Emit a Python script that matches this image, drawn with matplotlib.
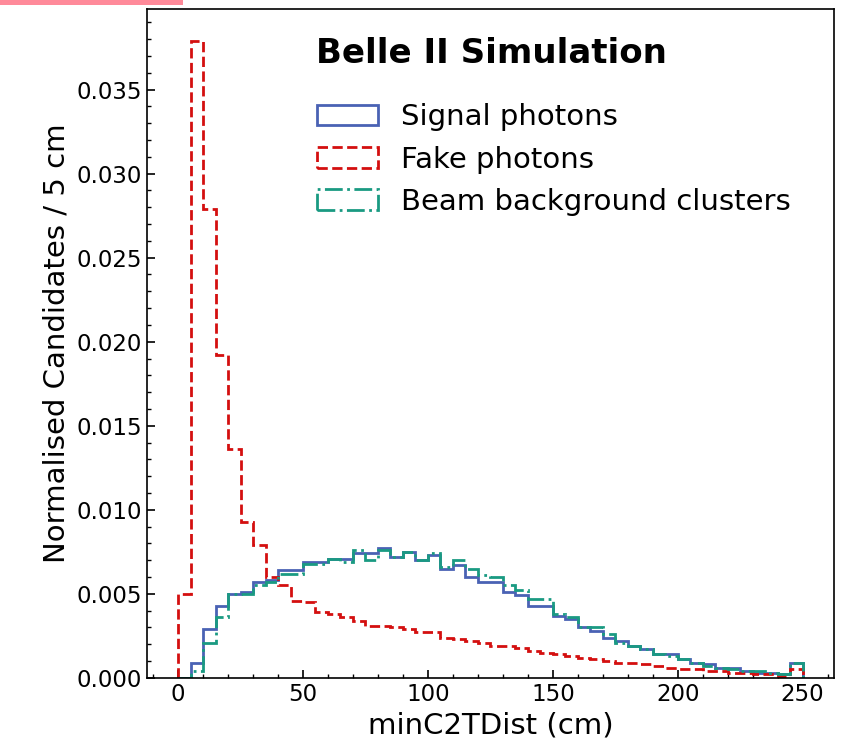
import numpy as np
import matplotlib.pyplot as plt
from matplotlib.patches import Rectangle
from matplotlib.ticker import MultipleLocator

# bins de 5 cm entre 0 e 250 (o ultimo inclui overflow)
bin_edges = np.arange(0, 255, 5)

signal = [0.0000, 0.0009, 0.0029, 0.0043, 0.0050, 0.0051, 0.0057, 0.0058, 0.0064, 0.0064,
          0.0069, 0.0069, 0.0071, 0.0071, 0.0074, 0.0074, 0.0077, 0.0072, 0.0075, 0.0070,
          0.0073, 0.0065, 0.0067, 0.0060, 0.0057, 0.0057, 0.0051, 0.0049, 0.0043, 0.0043,
          0.0037, 0.0035, 0.0030, 0.0028, 0.0024, 0.0022, 0.0019, 0.0017, 0.0014, 0.0014,
          0.0011, 0.0009, 0.0008, 0.0006, 0.0006, 0.0004, 0.0003, 0.0003, 0.0002, 0.0009]

fake = [0.0050, 0.0379, 0.0279, 0.0192, 0.0136, 0.0093, 0.0079, 0.0060, 0.0055, 0.0046,
        0.0045, 0.0039, 0.0038, 0.0036, 0.0034, 0.0031, 0.0031, 0.0030, 0.0029, 0.0027,
        0.0027, 0.0024, 0.0023, 0.0022, 0.0021, 0.0019, 0.0019, 0.0018, 0.0016, 0.0015,
        0.0014, 0.0013, 0.0012, 0.0011, 0.0010, 0.0009, 0.0009, 0.0008, 0.0007, 0.0006,
        0.0005, 0.0005, 0.0004, 0.0004, 0.0003, 0.0003, 0.0002, 0.0002, 0.0001, 0.0005]

beam = [0.0000, 0.0004, 0.0021, 0.0036, 0.0050, 0.0050, 0.0055, 0.0057, 0.0062, 0.0062,
        0.0068, 0.0068, 0.0071, 0.0069, 0.0076, 0.0070, 0.0076, 0.0072, 0.0075, 0.0070,
        0.0074, 0.0066, 0.0070, 0.0065, 0.0061, 0.0060, 0.0055, 0.0052, 0.0047, 0.0047,
        0.0038, 0.0036, 0.0030, 0.0030, 0.0026, 0.0021, 0.0019, 0.0017, 0.0014, 0.0013,
        0.0011, 0.0009, 0.0007, 0.0006, 0.0005, 0.0004, 0.0004, 0.0003, 0.0002, 0.0009]

centros = bin_edges[:-1] + 2.5

fig = plt.figure(figsize=(8.44, 7.49), dpi=100)
ax = fig.add_axes([0.174, 0.095, 0.814, 0.893])

ax.hist(centros, bins=bin_edges, weights=signal, histtype='step', color='#4a62b4',
        linewidth=2, label='Signal photons')
ax.hist(centros, bins=bin_edges, weights=fake, histtype='step', color='#d40f0f',
        linewidth=2, linestyle='--', label='Fake photons')
ax.hist(centros, bins=bin_edges, weights=beam, histtype='step', color='#1a9a82',
        linewidth=2, linestyle='-.', label='Beam background clusters')

ax.set_xlim(-12.5, 262.5)
ax.set_ylim(bottom=0)
ax.xaxis.set_major_locator(MultipleLocator(50))
ax.xaxis.set_minor_locator(MultipleLocator(10))
ax.yaxis.set_major_locator(MultipleLocator(0.005))
ax.yaxis.set_minor_locator(MultipleLocator(0.001))
ax.tick_params(which='both', direction='in', labelsize=16.5)
ax.tick_params(which='major', length=6, width=1.2)
ax.tick_params(which='minor', length=3, width=1)
for s in ax.spines.values():
    s.set_linewidth(1.2)

ax.set_xlabel('minC2TDist (cm)', fontsize=21)
ax.set_ylabel('Normalised Candidates / 5 cm', fontsize=21)

ax.text(0.246, 0.933, 'Belle II Simulation', transform=ax.transAxes,
        fontsize=24.5, fontweight='bold', ha='left', va='center')

ax.legend(loc='upper left', fontsize=21, frameon=False,
          bbox_to_anchor=(0.247, 0.859), borderaxespad=0, borderpad=0,
          handlelength=2.1, handletextpad=0.8, labelspacing=0.49)

# faixa rosa no canto superior esquerdo
fig.add_artist(Rectangle((0, 1 - 5 / 749), 183 / 844, 5 / 749, transform=fig.transFigure,
                         color='#ff8a9a', linewidth=0))

plt.savefig('out.png', dpi=100)
